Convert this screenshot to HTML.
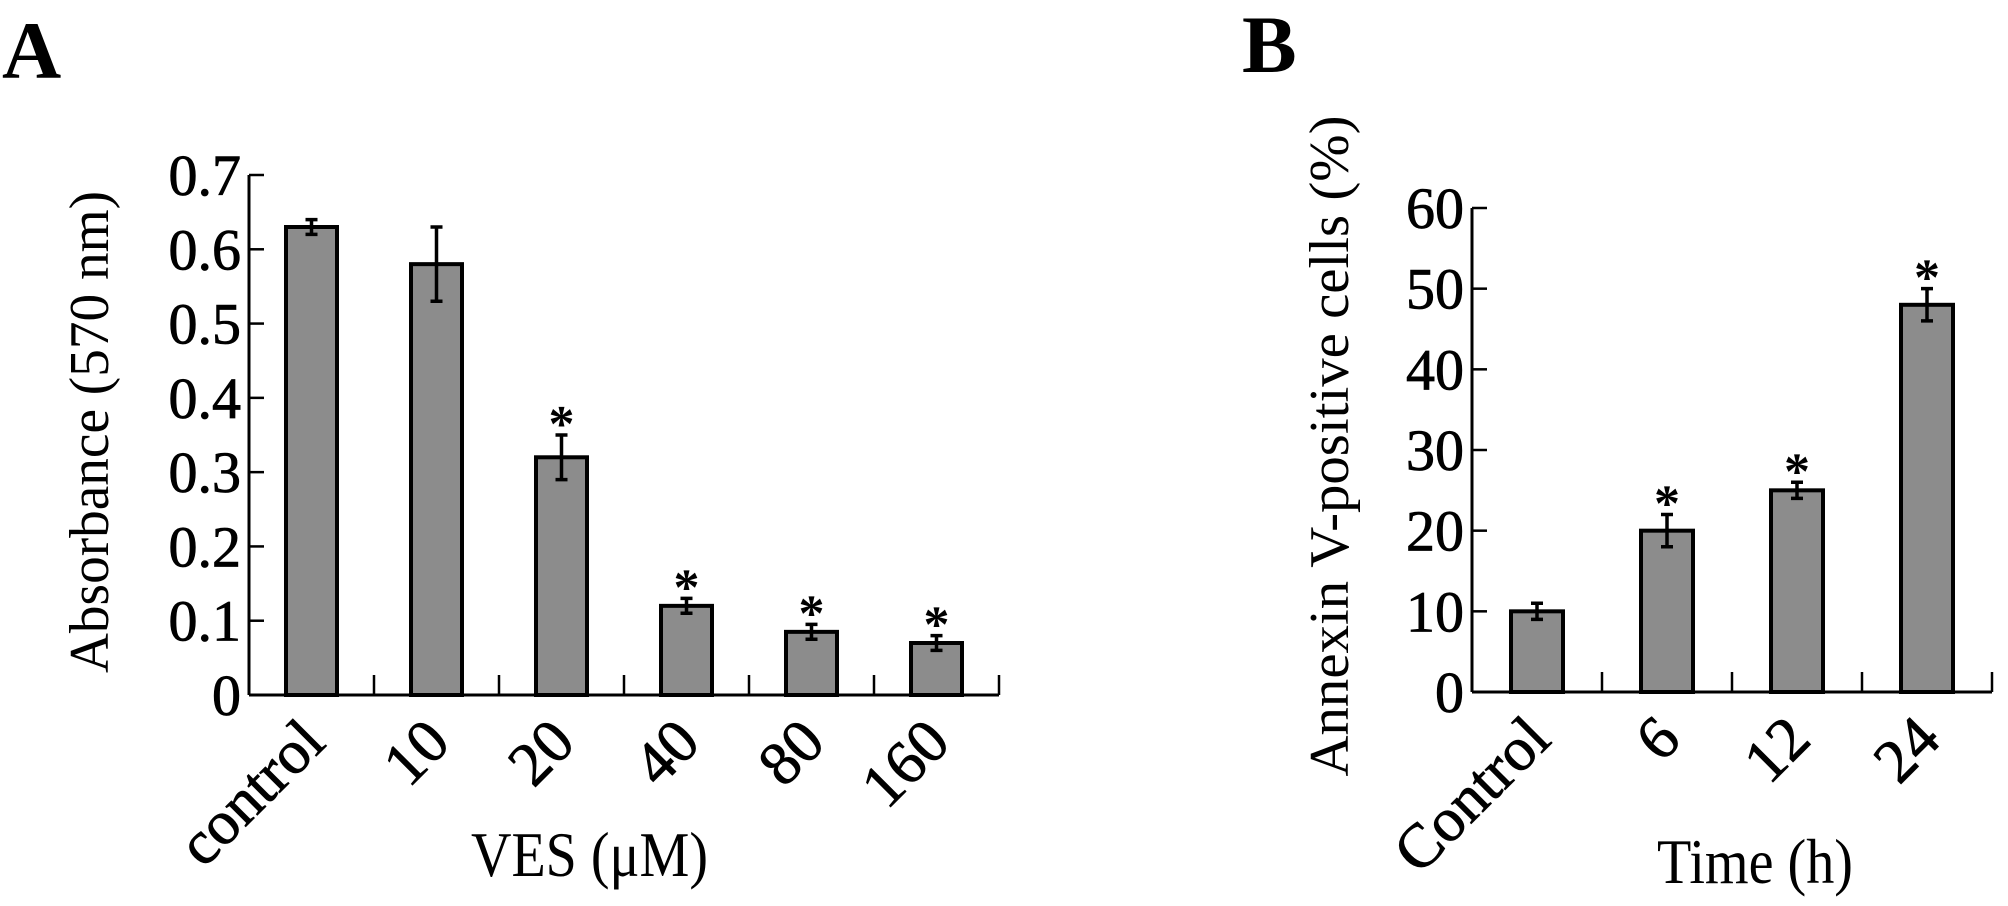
<!DOCTYPE html>
<html><head><meta charset="utf-8"><style>
html,body{margin:0;padding:0;background:#fff;}
svg{display:block;}
svg text{font-family:"Liberation Serif",serif;}
</style></head><body>
<svg id="chart" width="2008" height="906" viewBox="0 0 2008 906">
<text x="2" y="78" font-size="82" font-weight="bold" font-family="Liberation Serif, serif">A</text>
<text x="1242" y="72" font-size="82" font-weight="bold" font-family="Liberation Serif, serif">B</text>
<g id="ga"></g>
<g id="gb"></g>
</svg>
<script>
const catsA = ["control","10","20","40","80","160"];
const valsA = [0.63,0.58,0.32,0.12,0.085,0.07];
const errsA = [0.01,0.05,0.03,0.01,0.01,0.01];
const sigA = [false,false,true,true,true,true];
const ticksA = ["0","0.1","0.2","0.3","0.4","0.5","0.6","0.7"];
const tickValsA = [0,0.1,0.2,0.3,0.4,0.5,0.6,0.7];

const catsB = ["Control","6","12","24"];
const valsB = [10,20,25,48];
const errsB = [1,2,1,2];
const sigB = [false,true,true,true];
const ticksB = ["0","10","20","30","40","50","60"];
const tickValsB = [0,10,20,30,40,50,60];

const NS="http://www.w3.org/2000/svg";
const SERIF="Liberation Serif, serif";
function mk(parent,tag,attrs){const e=document.createElementNS(NS,tag);for(const k in attrs)e.setAttribute(k,attrs[k]);parent.appendChild(e);return e;}

function drawPanel(g,cfg,cats,vals,errs,sig,ticks,tickVals){
  const yS=v=>cfg.y0-(v-cfg.ymin)/(cfg.ymax-cfg.ymin)*(cfg.y0-cfg.yTop);
  const step=(cfg.xEnd-cfg.x0)/cats.length;
  const xS=i=>cfg.x0+step*(i+0.5);
  let l=mk(g,'line',{x1:cfg.x0,y1:cfg.y0,x2:cfg.xEnd,y2:cfg.y0,stroke:'#000','stroke-width':3});
  
  
  l=mk(g,'line',{x1:cfg.x0,y1:cfg.y0,x2:cfg.x0,y2:cfg.yTop,stroke:'#000','stroke-width':3});
  
  
  for(let i=0;i<ticks.length;i++){
    const y=yS(tickVals[i]);
    const t=mk(g,'line',{x1:cfg.x0,y1:y,x2:cfg.x0+15,y2:y,stroke:'#000','stroke-width':2.5});
    
    
    const tx=mk(g,'text',{x:cfg.x0-8,y:y+20,'font-size':58,'text-anchor':'end','font-family':SERIF,stroke:'#000','stroke-width':0.8});
    tx.textContent=ticks[i];
    
    
  }
  for(let i=1;i<=cats.length;i++){
    const x=cfg.x0+step*i;
    const t=mk(g,'line',{x1:x,y1:cfg.y0,x2:x,y2:cfg.y0-20,stroke:'#000','stroke-width':2.5});
    
    
  }
  for(let i=0;i<cats.length;i++){
    const cx=xS(i), y=yS(vals[i]), w=cfg.bw;
    const b=mk(g,'rect',{x:cx-w/2,y:y,width:w,height:cfg.y0-y,fill:'#8c8c8c',stroke:'#000','stroke-width':4});
    
    
    const yt=yS(vals[i]+errs[i]), yb=yS(vals[i]-errs[i]);
    const e=mk(g,'path',{d:`M${cx},${yt}V${yb}M${cx-6},${yt}H${cx+6}M${cx-6},${yb}H${cx+6}`,stroke:'#000','stroke-width':3.5,fill:'none'});
    
    
    if(sig[i]){
      const s=mk(g,'text',{x:cx,y:yt+6,'font-size':52,'font-weight':'bold','text-anchor':'middle','font-family':'Liberation Sans, sans-serif'});
      s.textContent='*';
      
      
    }
    const lx=cx+16, ly=cfg.y0+50;
    const lab=mk(g,'text',{x:lx,y:ly,'font-size':62,'text-anchor':'end','font-family':SERIF,stroke:'#000','stroke-width':0.8,transform:`rotate(-45 ${lx} ${ly})`});
    lab.textContent=cats[i];
    
    
  }
  const yt=mk(g,'text',{x:0,y:0,'font-size':56,'text-anchor':'middle','font-family':SERIF,textLength:cfg.ytLen,lengthAdjust:'spacingAndGlyphs',transform:`translate(${cfg.ytX},${cfg.ytY}) rotate(-90)`});
  yt.textContent=cfg.ytitle;
  
  
  const xt=mk(g,'text',{x:cfg.xtX,y:cfg.xtY,'font-size':64,'font-family':SERIF,textLength:cfg.xtLen,lengthAdjust:'spacingAndGlyphs'});
  xt.textContent=cfg.xtitle;
  
  
}
drawPanel(document.getElementById('ga'),{x0:249,xEnd:999,y0:695,yTop:175,ymin:0,ymax:0.7,bw:51,
  ytitle:'Absorbance (570 nm)',ytX:108,ytY:432,ytLen:482,xtitle:'VES (\u03bcM)',xtX:471,xtY:876,xtLen:237},
  catsA,valsA,errsA,sigA,ticksA,tickValsA);
drawPanel(document.getElementById('gb'),{x0:1472,xEnd:1992,y0:692,yTop:208,ymin:0,ymax:60,bw:52,
  ytitle:'Annexin V-positive cells (%)',ytX:1348,ytY:446,ytLen:661,xtitle:'Time (h)',xtX:1657,xtY:883,xtLen:196},
  catsB,valsB,errsB,sigB,ticksB,tickValsB);
</script>
</body></html>
